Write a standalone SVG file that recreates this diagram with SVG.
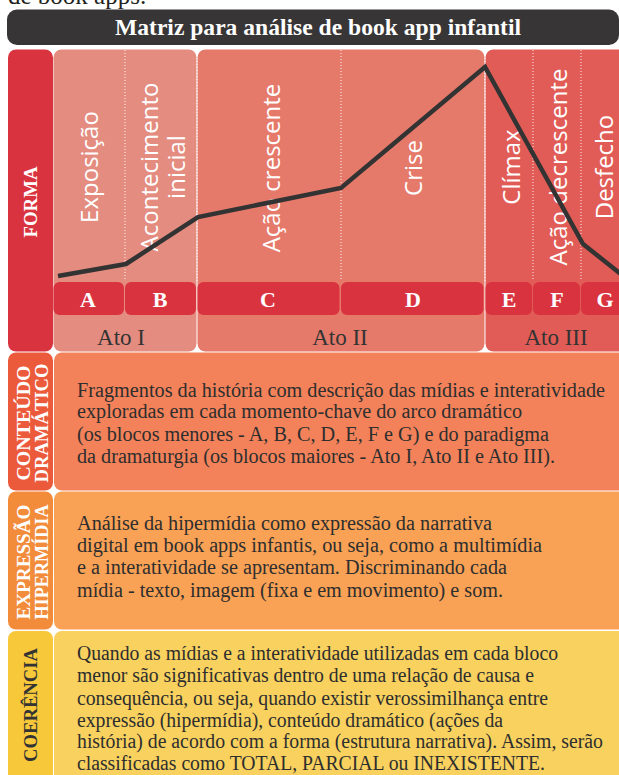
<svg xmlns="http://www.w3.org/2000/svg" width="619" height="775" viewBox="0 0 619 775">
<style>
.serif{font-family:"Liberation Serif","Times New Roman",serif}
.side{font-family:"Liberation Serif","Times New Roman",serif;font-weight:bold;font-size:19.5px;text-anchor:middle}
.vlab{font-family:"Open Sans","Noto Sans",sans-serif;font-size:24px;fill:#fff;text-anchor:middle}
.blk{fill:#da3340}
.blt{font-family:"Liberation Serif","Times New Roman",serif;font-weight:bold;font-size:22px;fill:#fff;text-anchor:middle}
.ato{font-family:"Liberation Serif","Times New Roman",serif;font-size:23px;fill:#333;text-anchor:middle}
.para{font-family:"Liberation Serif","Times New Roman",serif;font-size:20px;fill:#2e2e2e}
.dot{stroke:#fff;stroke-width:1;stroke-dasharray:1 2;opacity:.9}
</style>
<rect width="619" height="775" fill="#fff"/>
<text class="serif" x="8" y="4" font-size="25" fill="#231f20">de book apps.</text>

<g id="title">
<rect x="7" y="9.5" width="612" height="35.5" rx="10" fill="#383536"/>
<text class="serif" x="318" y="35" font-size="23.5" font-weight="bold" fill="#fff" text-anchor="middle" textLength="406" lengthAdjust="spacingAndGlyphs">Matriz para análise de book app infantil</text>
</g>

<g id="forma">
<rect x="8" y="49.5" width="45" height="302" rx="8" fill="#da3340"/>
<text class="side" transform="translate(37,202) rotate(-90)" font-size="18.5" fill="#fff" textLength="71" lengthAdjust="spacingAndGlyphs">FORMA</text>
</g>

<g id="ato-i">
<rect x="53.5" y="49.5" width="143" height="302" rx="8" fill="#e38c7f"/>
</g>
<g id="ato-ii">
<rect x="197.5" y="49.5" width="287" height="302" rx="8" fill="#e57a6b"/>
</g>
<g id="ato-iii">
<rect x="485.5" y="49.5" width="150" height="302" rx="8" fill="#e15c56"/>
</g>

<g id="dividers">
<line class="dot" x1="125" y1="50" x2="125" y2="281"/>
<line class="dot" x1="197" y1="58" x2="197" y2="281"/>
<line class="dot" x1="341" y1="50" x2="341" y2="281"/>
<line class="dot" x1="485" y1="58" x2="485" y2="281"/>
<line class="dot" x1="533" y1="50" x2="533" y2="281"/>
<line class="dot" x1="581" y1="50" x2="581" y2="281"/>
</g>

<g id="stage-labels">
<text class="vlab" transform="translate(98,167) rotate(-90)">Exposição</text>
<text class="vlab" transform="translate(158,167) rotate(-90)">Acontecimento</text>
<text class="vlab" transform="translate(185,167) rotate(-90)">inicial</text>
<text class="vlab" transform="translate(280,168) rotate(-90)">Ação crescente</text>
<text class="vlab" transform="translate(422,168) rotate(-90)">Crise</text>
<text class="vlab" transform="translate(520,167) rotate(-90)">Clímax</text>
<text class="vlab" transform="translate(567,167) rotate(-90)">Ação decrescente</text>
<text class="vlab" transform="translate(613,167) rotate(-90)">Desfecho</text>
</g>

<g id="arc">
<polyline points="58,276 126,264 198,217 341,188 485,67 583,244 622,275" fill="none" stroke="#333" stroke-width="4.5" stroke-linejoin="miter"/>
</g>

<g id="block-a"><rect class="blk" x="53.5" y="282" width="70.5" height="33" rx="6"/><text class="blt" x="88" y="307">A</text></g>
<g id="block-b"><rect class="blk" x="125" y="282" width="71" height="33" rx="6"/><text class="blt" x="160" y="307">B</text></g>
<g id="block-c"><rect class="blk" x="197.5" y="282" width="142" height="33" rx="6"/><text class="blt" x="268" y="307">C</text></g>
<g id="block-d"><rect class="blk" x="341" y="282" width="142.5" height="33" rx="6"/><text class="blt" x="413" y="307">D</text></g>
<g id="block-e"><rect class="blk" x="485.5" y="282" width="46.5" height="33" rx="6"/><text class="blt" x="509" y="307">E</text></g>
<g id="block-f"><rect class="blk" x="533" y="282" width="47" height="33" rx="6"/><text class="blt" x="557" y="307">F</text></g>
<g id="block-g"><rect class="blk" x="581" y="282" width="50" height="33" rx="6"/><text class="blt" x="605" y="307">G</text></g>

<g id="ato-labels">
<text class="ato" x="121" y="345">Ato I</text>
<text class="ato" x="340" y="345">Ato II</text>
<text class="ato" x="556" y="345">Ato III</text>
</g>

<g id="conteudo-dramatico">
<rect x="8" y="352.5" width="45" height="138" rx="8" fill="#ec5a3c"/>
<rect x="54" y="352.5" width="590" height="138" rx="8" fill="#f3825a"/>
<text class="side" transform="translate(30,423) rotate(-90)" fill="#fff" textLength="115" lengthAdjust="spacingAndGlyphs">CONTEÚDO</text>
<text class="side" transform="translate(48,423) rotate(-90)" fill="#fff" textLength="119" lengthAdjust="spacingAndGlyphs">DRAMÁTICO</text>
<g class="para">
<text x="77" y="397" textLength="528" lengthAdjust="spacingAndGlyphs">Fragmentos da história com descrição das mídias e interatividade</text>
<text x="77" y="418" textLength="445" lengthAdjust="spacingAndGlyphs">exploradas em cada momento-chave do arco dramático</text>
<text x="77" y="441" textLength="472" lengthAdjust="spacingAndGlyphs">(os blocos menores - A, B, C, D, E, F e G) e do paradigma</text>
<text x="77" y="463" textLength="478" lengthAdjust="spacingAndGlyphs">da dramaturgia (os blocos maiores - Ato I, Ato II e Ato III).</text>
</g>
</g>

<g id="expressao-hipermidia">
<rect x="8" y="491.5" width="45" height="138" rx="8" fill="#f28b3a"/>
<rect x="54" y="491.5" width="590" height="138" rx="8" fill="#f9a155"/>
<text class="side" transform="translate(30,562) rotate(-90)" fill="#fff" textLength="115" lengthAdjust="spacingAndGlyphs">EXPRESSÃO</text>
<text class="side" transform="translate(48,562) rotate(-90)" fill="#fff" textLength="115" lengthAdjust="spacingAndGlyphs">HIPERMÍDIA</text>
<g class="para">
<text x="77" y="530" textLength="415" lengthAdjust="spacingAndGlyphs">Análise da hipermídia como expressão da narrativa</text>
<text x="77" y="552" textLength="465" lengthAdjust="spacingAndGlyphs">digital em book apps infantis, ou seja, como a multimídia</text>
<text x="77" y="574" textLength="430" lengthAdjust="spacingAndGlyphs">e a interatividade se apresentam. Discriminando cada</text>
<text x="77" y="597" textLength="426" lengthAdjust="spacingAndGlyphs">mídia - texto, imagem (fixa e em movimento) e som.</text>
</g>
</g>

<g id="coerencia">
<rect x="8" y="631" width="45" height="160" rx="8" fill="#f6c83a"/>
<rect x="54" y="631" width="590" height="160" rx="8" fill="#f8d15f"/>
<text class="side" transform="translate(37,705) rotate(-90)" fill="#333" textLength="114" lengthAdjust="spacingAndGlyphs">COERÊNCIA</text>
<g class="para">
<text x="77" y="660" textLength="481" lengthAdjust="spacingAndGlyphs">Quando as mídias e a interatividade utilizadas em cada bloco</text>
<text x="77" y="682" textLength="457" lengthAdjust="spacingAndGlyphs">menor são significativas dentro de uma relação de causa e</text>
<text x="77" y="705" textLength="471" lengthAdjust="spacingAndGlyphs">consequência, ou seja, quando existir verossimilhança entre</text>
<text x="77" y="727" textLength="426" lengthAdjust="spacingAndGlyphs">expressão (hipermídia), conteúdo dramático (ações da</text>
<text x="77" y="748" textLength="526" lengthAdjust="spacingAndGlyphs">história) de acordo com a forma (estrutura narrativa). Assim, serão</text>
<text x="77" y="770" textLength="468" lengthAdjust="spacingAndGlyphs">classificadas como TOTAL, PARCIAL ou INEXISTENTE.</text>
</g>
</g>
</svg>
